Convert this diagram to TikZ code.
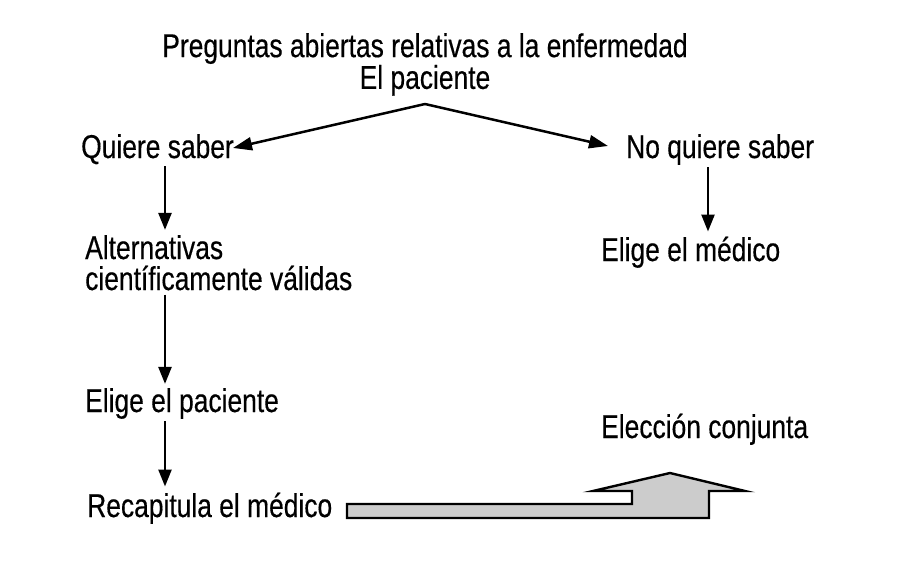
\documentclass[tikz,border=0pt]{standalone}
\usepackage{fontspec}
\setmainfont{Liberation Sans}[FakeStretch=0.8,FakeBold=0.4]
\usetikzlibrary{arrows.meta}
\begin{document}
\begin{tikzpicture}[x=1pt,y=-1pt,
  lbl/.style={inner sep=0pt, anchor=base west, font=\fontsize{33}{35}\selectfont},
  ttl/.style={inner sep=0pt, anchor=north, align=center, font=\fontsize{33}{29}\selectfont},
  arr/.style={line width=2.5pt, -{Triangle[length=17pt,width=13pt]}},
  diagarr/.style={line width=2.5pt, -{Triangle[length=19pt,width=13pt]}},
  blockarrow/.style={draw=black, line width=2.4pt, fill=black!20, line join=miter}]
\useasboundingbox (0,0) rectangle (902,563);
\node[ttl] (title) at (425,33) {Preguntas abiertas relativas a la enfermedad\\El paciente};
\node[lbl] (quiere) at (81,158) {Quiere saber};
\node[lbl] (noquiere) at (626,158) {No quiere saber};
\node[lbl, text depth=0pt] (alt) at (85,259) {Alternativas};
\node[lbl, text height=23pt] (cient) at (85,290) {científicamente válidas};
\node[lbl] (elpac) at (85,412) {Elige el paciente};
\node[lbl] (recap) at (87,517) {Recapitula el médico};
\node[lbl] (elmed) at (601,261) {Elige el médico};
\node[lbl] (conj) at (601,438) {Elección conjunta};
\coordinate (apex) at (425,104);
\coordinate (tipL) at (233,148);
\coordinate (tipR) at (608,146);
\coordinate (colL) at (165,0);
\coordinate (colR) at (708,0);
\draw[diagarr] (apex) -- (tipL);
\draw[diagarr] (apex) -- (tipR);
\draw[arr] (quiere.south -| colL) ++(0,2) -- ([yshift=5pt]alt.north -| colL);
\draw[arr] (cient.south -| colL) ++(0,4) -- ([yshift=4pt]elpac.north -| colL);
\draw[arr] (elpac.south -| colL) ++(0,2) -- ([yshift=6pt]recap.north -| colL);
\draw[arr] (noquiere.south -| colR) ++(0,2) -- ([yshift=5pt]elmed.north -| colR);
\draw[blockarrow] (347,504) -- (632,504) -- (632,491) -- (593,491) -- (670,473)
  -- (745,491) -- (709,491) -- (709,518) -- (347,518) -- cycle;
\end{tikzpicture}
\end{document}
